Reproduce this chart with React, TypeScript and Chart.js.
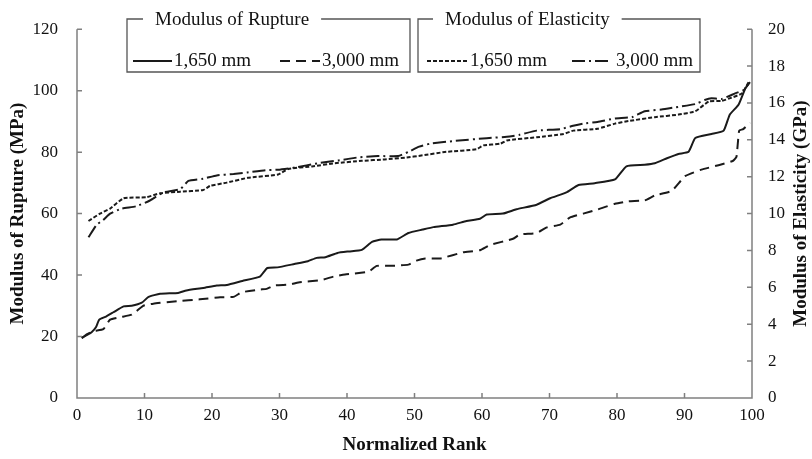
import React, { useEffect, useRef } from "react";
import { Chart, registerables } from "chart.js";

Chart.register(...registerables);

const xTicks = [0, 10, 20, 30, 40, 50, 60, 70, 80, 90, 100];
const leftTicks = [0, 20, 40, 60, 80, 100, 120];
const rightTicks = [0, 2, 4, 6, 8, 10, 12, 14, 16, 18, 20];

const morShortRank = [0.7, 1.5, 2.2, 2.8, 3.3, 4.3, 5.4, 6.9, 8.1, 9.6, 10.6, 12.3, 15, 16.2, 18.7, 20.7, 22.2, 24.5, 27.1, 28.2, 29.7, 32.2, 34.2, 35.5, 36.8, 38.6, 40.3, 42.2, 43.7, 45.1, 47.4, 49.1, 51.2, 52.8, 55.7, 57.7, 59.7, 60.7, 63.1, 65.1, 68.1, 70.1, 72.5, 74.3, 76.7, 79.7, 81.4, 84.1, 85.6, 87.4, 89.1, 90.6, 91.6, 94, 95.8, 96.7, 98, 99, 99.7];
const morShort = [19.5, 20.5, 21.5, 23, 25.5, 26.5, 27.9, 29.8, 30, 31, 32.9, 33.9, 34.2, 35, 35.8, 36.6, 36.8, 38.1, 39.5, 42.3, 42.5, 43.6, 44.5, 45.6, 45.8, 47.2, 47.7, 48.2, 50.8, 51.6, 51.6, 53.7, 54.8, 55.6, 56.4, 57.6, 58.3, 59.7, 60, 61.4, 62.9, 65, 66.9, 69.3, 69.9, 71.1, 75.4, 75.9, 76.4, 78, 79.4, 80.1, 84.6, 85.9, 87, 92.2, 95.4, 100.7, 102.8];

const morLongRank = [0.7, 1.5, 2.5, 3.9, 4.9, 6.4, 8.1, 9.8, 11.3, 14.8, 18.2, 21.2, 23.2, 24.4, 27.1, 28.1, 29.2, 31.5, 32.8, 36.2, 38, 39.7, 43.2, 44.4, 46.6, 49.1, 50.3, 51.6, 53.8, 57.2, 59.7, 61.2, 64.6, 65.6, 68.1, 69.6, 71.6, 73, 75, 77.2, 79.7, 81.7, 84.1, 85.6, 88.1, 90.1, 92.5, 95.3, 97.2, 97.7, 98.1, 98.7, 99.7];
const morLong = [19.5, 20.8, 21.8, 22.4, 25.5, 26.3, 27.1, 30, 30.7, 31.5, 32.1, 32.8, 32.9, 34.4, 35.3, 35.5, 36.6, 36.9, 37.6, 38.4, 39.5, 40.2, 41.1, 43, 43, 43.4, 44.7, 45.4, 45.4, 47.4, 48.1, 49.8, 51.8, 53.2, 53.7, 55.5, 56.4, 58.7, 60, 61.4, 63.2, 64, 64.3, 65.9, 67.4, 72.2, 74.3, 75.9, 77.2, 78.5, 87, 87.5, 89.6];

const moeShortRank = [1.7, 3.4, 4.9, 6.9, 10.3, 12.3, 15.3, 18.7, 19.7, 22.2, 25.3, 29.8, 31.3, 34.8, 38.2, 42.2, 45.6, 48.6, 51.2, 54.7, 59.2, 60.2, 62.7, 63.7, 68.1, 72.1, 73.5, 77.1, 79.7, 81.7, 85.6, 89.1, 91.6, 93.6, 95.5, 97, 98.5, 99.5];
const moeShort = [9.6, 10.0, 10.27, 10.83, 10.89, 11.1, 11.19, 11.28, 11.5, 11.68, 11.94, 12.12, 12.42, 12.56, 12.73, 12.86, 12.94, 13.03, 13.16, 13.35, 13.49, 13.7, 13.79, 13.97, 14.14, 14.32, 14.5, 14.6, 14.88, 15.02, 15.23, 15.37, 15.55, 16.08, 16.11, 16.29, 16.52, 17.13];

const moeLongRank = [1.7, 2.9, 3.9, 4.9, 6.6, 8.8, 10.8, 12.8, 15.3, 16.5, 18.7, 20.7, 23.2, 25.2, 27.9, 29.8, 32.3, 35.7, 38.7, 41.7, 44.6, 47.6, 49.1, 50.7, 52.3, 55.7, 60.7, 64.1, 65.6, 68.1, 71.6, 73.5, 75, 77.1, 79.7, 82.2, 84.1, 86.6, 88.6, 91.6, 93, 94, 95.5, 97.5, 98.7, 99.5];
const moeLong = [8.72, 9.39, 9.66, 10.0, 10.27, 10.4, 10.71, 11.15, 11.33, 11.77, 11.89, 12.07, 12.15, 12.23, 12.35, 12.38, 12.5, 12.73, 12.88, 13.05, 13.12, 13.12, 13.35, 13.63, 13.79, 13.93, 14.09, 14.18, 14.28, 14.5, 14.58, 14.76, 14.88, 14.97, 15.16, 15.23, 15.55, 15.64, 15.76, 15.94, 16.16, 16.25, 16.22, 16.52, 16.69, 17.04];

const legendGroups = ["Modulus of Rupture", "Modulus of Elasticity"];
const seriesLabels = ["1,650 mm", "3,000 mm"];
const xTitle = "Normalized Rank";
const leftTitle = "Modulus of Rupture (MPa)";
const rightTitle = "Modulus of Elasticity (GPa)";

const FONT = "'Liberation Serif', 'Times New Roman', serif";
const LINE = "#1a1a1a";
const AXIS = "#808080";

const DASH_SOLID: number[] = [];
const DASH_LONG = [10, 6];
const DASH_SHORT = [4, 2];
const DASH_DOT = [13, 4, 2, 4];

const pts = (xs: number[], ys: number[]) => xs.map((x, i) => ({ x, y: ys[i] }));

const overlay = {
  id: "overlay",
  afterDraw(chart: any) {
    const ctx = chart.ctx as CanvasRenderingContext2D;
    const x = chart.scales.x;
    const yl = chart.scales.yL;
    const yr = chart.scales.yR;
    const area = chart.chartArea;
    ctx.save();
    ctx.strokeStyle = AXIS;
    ctx.lineWidth = 1.5;
    ctx.setLineDash([]);
    ctx.beginPath();
    ctx.moveTo(area.left, area.top);
    ctx.lineTo(area.left, area.bottom);
    ctx.lineTo(area.right, area.bottom);
    ctx.lineTo(area.right, area.top);
    xTicks.forEach((v) => {
      const px = x.getPixelForValue(v);
      ctx.moveTo(px, area.bottom);
      ctx.lineTo(px, area.bottom - 5);
    });
    leftTicks.forEach((v) => {
      const py = yl.getPixelForValue(v);
      ctx.moveTo(area.left, py);
      ctx.lineTo(area.left + 5, py);
    });
    rightTicks.forEach((v) => {
      const py = yr.getPixelForValue(v);
      ctx.moveTo(area.right, py);
      ctx.lineTo(area.right - 5, py);
    });
    ctx.stroke();

    ctx.fillStyle = "#111";
    ctx.font = `bold 19px ${FONT}`;
    ctx.textAlign = "center";
    ctx.textBaseline = "middle";
    ctx.fillText(xTitle, (area.left + area.right) / 2, 445);
    const midY = (area.top + area.bottom) / 2;
    ctx.save();
    ctx.translate(18, midY);
    ctx.rotate(-Math.PI / 2);
    ctx.fillText(leftTitle, 0, 0);
    ctx.restore();
    ctx.save();
    ctx.translate(801, midY);
    ctx.rotate(-Math.PI / 2);
    ctx.fillText(rightTitle, 0, 0);
    ctx.restore();

    const boxes = [
      { l: 127, r: 410, title: legendGroups[0], tx: 155, dashes: [DASH_SOLID, DASH_LONG], s: [[133, 172, 174], [280, 320, 322]] },
      { l: 418, r: 700, title: legendGroups[1], tx: 445, dashes: [DASH_SHORT, DASH_DOT], s: [[427, 467, 470], [572, 610, 616]] },
    ];
    const top = 19;
    const bottom = 72;
    boxes.forEach((b) => {
      ctx.font = `19px ${FONT}`;
      ctx.textAlign = "left";
      ctx.textBaseline = "middle";
      const tw = ctx.measureText(b.title).width;
      ctx.strokeStyle = "#555";
      ctx.lineWidth = 1.3;
      ctx.setLineDash([]);
      ctx.beginPath();
      ctx.moveTo(b.tx - 12, top);
      ctx.lineTo(b.l, top);
      ctx.lineTo(b.l, bottom);
      ctx.lineTo(b.r, bottom);
      ctx.lineTo(b.r, top);
      ctx.lineTo(b.tx + tw + 12, top);
      ctx.stroke();
      ctx.fillStyle = "#111";
      ctx.fillText(b.title, b.tx, top + 1);
      b.s.forEach((seg, i) => {
        const y = 61;
        ctx.strokeStyle = LINE;
        ctx.lineWidth = 2;
        ctx.setLineDash(b.dashes[i]);
        ctx.beginPath();
        ctx.moveTo(seg[0], y);
        ctx.lineTo(seg[1], y);
        ctx.stroke();
        ctx.setLineDash([]);
        ctx.fillText(seriesLabels[i], seg[2], y);
      });
    });
    ctx.restore();
  },
};

export default function App() {
  const ref = useRef<HTMLCanvasElement>(null);
  useEffect(() => {
    if (!ref.current) return;
    const ds = (label: string, data: any[], dash: number[], axis: string) => ({
      label,
      data,
      yAxisID: axis,
      borderColor: LINE,
      borderWidth: 2,
      borderDash: dash,
      pointRadius: 0,
      tension: 0.15,
      fill: false,
    });
    const chart = new Chart(ref.current, {
      type: "line",
      data: {
        datasets: [
          ds("MOR 1,650 mm", pts(morShortRank, morShort), DASH_SOLID, "yL"),
          ds("MOR 3,000 mm", pts(morLongRank, morLong), DASH_LONG, "yL"),
          ds("MOE 1,650 mm", pts(moeShortRank, moeShort), DASH_SHORT, "yR"),
          ds("MOE 3,000 mm", pts(moeLongRank, moeLong), DASH_DOT, "yR"),
        ],
      },
      options: {
        responsive: false,
        animation: false,
        events: [],
        layout: { padding: { top: 19, left: 0, right: 0, bottom: 0 } },
        plugins: { legend: { display: false }, tooltip: { enabled: false } },
        scales: {
          x: {
            type: "linear",
            min: 0,
            max: 100,
            afterBuildTicks: (s: any) => { s.ticks = xTicks.map((v) => ({ value: v })); },
            afterFit: (s: any) => { s.height = 61; },
            grid: { display: false, drawTicks: false },
            border: { display: false },
            ticks: { color: "#111", padding: 7, maxRotation: 0, font: { family: FONT, size: 17 } },
          },
          yL: {
            type: "linear",
            position: "left",
            min: 0,
            max: 120,
            afterBuildTicks: (s: any) => { s.ticks = leftTicks.map((v) => ({ value: v })); },
            afterFit: (s: any) => { s.width = 77; },
            grid: { display: false, drawTicks: false },
            border: { display: false },
            ticks: { color: "#111", padding: 19, font: { family: FONT, size: 17 } },
          },
          yR: {
            type: "linear",
            position: "right",
            min: 0,
            max: 20,
            afterBuildTicks: (s: any) => { s.ticks = rightTicks.map((v) => ({ value: v })); },
            afterFit: (s: any) => { s.width = 60; },
            grid: { display: false, drawTicks: false },
            border: { display: false },
            ticks: { color: "#111", padding: 16, font: { family: FONT, size: 17 } },
          },
        },
      },
      plugins: [overlay],
    } as any);
    return () => chart.destroy();
  }, []);
  return (
    <div style={{ position: "absolute", left: 0, top: 0, width: 812, height: 459, background: "#fff" }}>
      <canvas ref={ref} width={812} height={459} style={{ display: "block" }} />
    </div>
  );
}
